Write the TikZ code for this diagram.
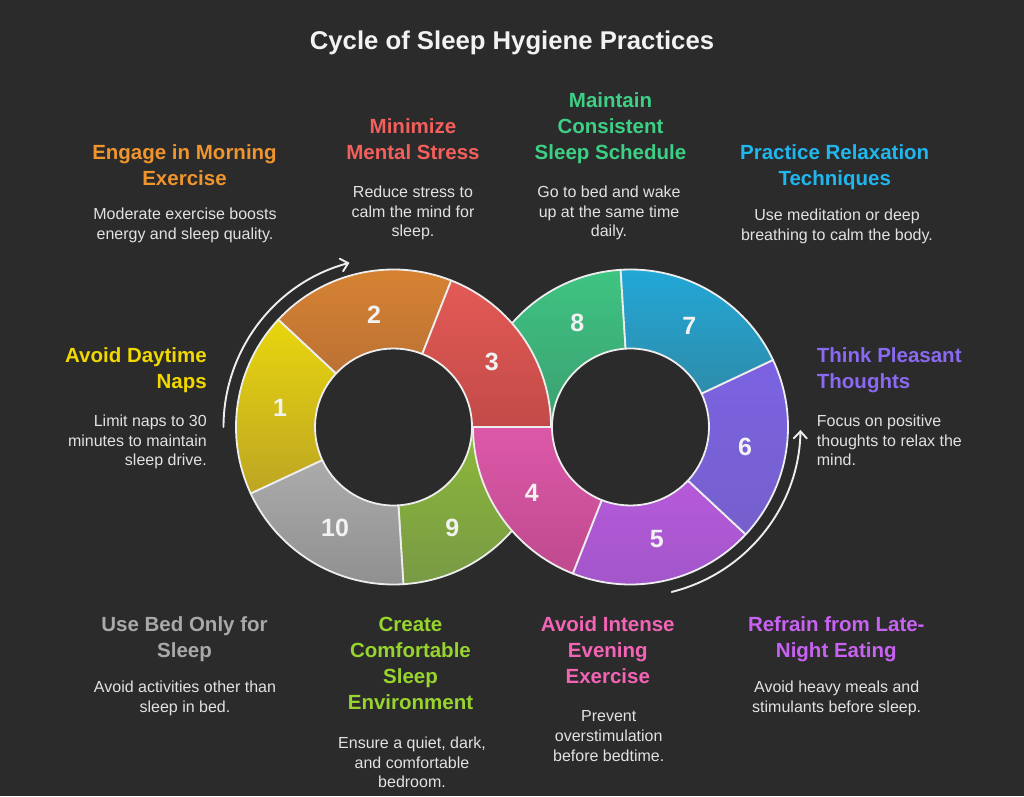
\documentclass[tikz,border=0pt]{standalone}
\usepackage{fontspec}
\setmainfont{Liberation Sans}
\usetikzlibrary{arrows.meta}
\definecolor{bg}{HTML}{2B2B2B}
\definecolor{edge}{HTML}{EDEDED}
\definecolor{desccol}{HTML}{E2E2E2}
\definecolor{titlecol}{HTML}{F2F2F2}
\definecolor{hOrange}{HTML}{F0952E}
\definecolor{hRed}{HTML}{F35F5C}
\definecolor{hGreen}{HTML}{3DD084}
\definecolor{hBlue}{HTML}{20B6EE}
\definecolor{hYellow}{HTML}{F0D800}
\definecolor{hViolet}{HTML}{8A6AF2}
\definecolor{hGray}{HTML}{A9A9A9}
\definecolor{hLime}{HTML}{98D42E}
\definecolor{hPink}{HTML}{F464B6}
\definecolor{hPurple}{HTML}{C862F2}
% segment gradients
\definecolor{s1t}{HTML}{E8D60E}\definecolor{s1b}{HTML}{BDA523}
\definecolor{s2t}{HTML}{DA8432}\definecolor{s2b}{HTML}{BB7234}
\definecolor{s3t}{HTML}{E35A55}\definecolor{s3b}{HTML}{C24A48}
\definecolor{s4t}{HTML}{DC58A8}\definecolor{s4b}{HTML}{BF4A8E}
\definecolor{s5t}{HTML}{B65ADA}\definecolor{s5b}{HTML}{A055C8}
\definecolor{s6t}{HTML}{7C62E2}\definecolor{s6b}{HTML}{7560CC}
\definecolor{s7t}{HTML}{22A8D8}\definecolor{s7b}{HTML}{2E8CAA}
\definecolor{s8t}{HTML}{3EC482}\definecolor{s8b}{HTML}{3C9E70}
\definecolor{s9t}{HTML}{8DB83A}\definecolor{s9b}{HTML}{789A45}
\definecolor{s10t}{HTML}{ABABAB}\definecolor{s10b}{HTML}{8F8F8F}
\newcommand\ringseg[5]{%
  \path[segbox, top color=#4, bottom color=#5]
    ([shift={(#2:157.5)}]#1) arc[start angle=#2, end angle=#3, radius=157.5]
    -- ([shift={(#3:78.5)}]#1) arc[start angle=#3, end angle=#2, radius=78.5] -- cycle;}
\begin{document}
\begin{tikzpicture}[x=1pt, y=1pt,
  segbox/.style={draw=edge, line width=1.8pt, line join=round},
  numlabel/.style={font=\fontsize{25}{25}\selectfont\bfseries, text=titlecol, inner sep=0},
  headtext/.style={font=\fontsize{20.5}{26}\selectfont\bfseries, align=center, inner sep=0, anchor=north},
  desctext/.style={font=\fontsize{16}{19.6}\selectfont, text=desccol, align=center, inner sep=0, anchor=north},
  cycarrow/.style={draw=edge, line width=1.9pt, line cap=round, -{Straight Barb[length=7pt, width=13pt, line cap=round]}}
]
\useasboundingbox (0,0) rectangle (1024,796);
\fill[bg] (0,0) rectangle (1024,796);

\coordinate (L) at (393.5,369);
\coordinate (R) at (630.5,369);

% lower layer
\ringseg{L}{-86.4}{0}{s9t}{s9b}
\ringseg{R}{93.6}{180}{s8t}{s8b}
% regular segments
\ringseg{L}{137}{205}{s1t}{s1b}
\ringseg{L}{68.5}{137}{s2t}{s2b}
\ringseg{L}{205}{273.6}{s10t}{s10b}
\ringseg{R}{248.5}{317}{s5t}{s5b}
\ringseg{R}{317}{385.2}{s6t}{s6b}
\ringseg{R}{25.2}{93.6}{s7t}{s7b}
% upper layer
\ringseg{L}{0}{68.5}{s3t}{s3b}
\ringseg{R}{180}{248.5}{s4t}{s4b}

% numbers
\node[numlabel] (n1) at (280,387.7) {1};
\node[numlabel] (n2) at (374,481) {2};
\node[numlabel] (n3) at (491.7,434.3) {3};
\node[numlabel] (n4) at (531.7,302.7) {4};
\node[numlabel] (n5) at (656.7,257) {5};
\node[numlabel] (n6) at (745,348.7) {6};
\node[numlabel] (n7) at (689.3,470) {7};
\node[numlabel] (n8) at (577.3,472.7) {8};
\node[numlabel] (n9) at (452.3,267.7) {9};
\node[numlabel] (n10) at (335,267.7) {10};

% cycle arrows
\draw[cycarrow] ([shift={(180:170)}]L) arc[start angle=180, end angle=105, radius=170];
\draw[cycarrow] ([shift={(-76:170)}]R) arc[start angle=-76, end angle=-1, radius=170];

% title
\node[font=\fontsize{25.7}{30}\selectfont\bfseries, text=titlecol, inner sep=0, anchor=base] (title) at (512,746) {Cycle of Sleep Hygiene Practices};

% headings and descriptions
\node[headtext, text=hOrange] (h2) at (184.5,651.5) {Engage in Morning\\Exercise};
\node[desctext] (d2) at (185,588) {Moderate exercise boosts\\energy and sleep quality.};

\node[headtext, text=hRed] (h3) at (413,677.5) {Minimize\\Mental Stress};
\node[desctext] (d3) at (413,610) {Reduce stress to\\calm the mind for\\sleep.};

\node[headtext, text=hGreen] (h8) at (610.5,703.5) {Maintain\\Consistent\\Sleep Schedule};
\node[desctext] (d8) at (609,610) {Go to bed and wake\\up at the same time\\daily.};

\node[headtext, text=hBlue] (h7) at (834.7,651.5) {Practice Relaxation\\Techniques};
\node[desctext] (d7) at (837,587) {Use meditation or deep\\breathing to calm the body.};

\node[headtext, text=hYellow, align=right, anchor=north east] (h1) at (207,448.5) {Avoid Daytime\\Naps};
\node[desctext, align=right, anchor=north east] (d1) at (207,381) {Limit naps to 30\\minutes to maintain\\sleep drive.};

\node[headtext, text=hViolet, align=left, anchor=north west] (h6) at (816.7,448.5) {Think Pleasant\\Thoughts};
\node[desctext, align=left, anchor=north west] (d6) at (816.7,381) {Focus on positive\\thoughts to relax the\\mind.};

\node[headtext, text=hGray] (h10) at (184.5,179.5) {Use Bed Only for\\Sleep};
\node[desctext] (d10) at (185,115) {Avoid activities other than\\sleep in bed.};

\node[headtext, text=hLime] (h9) at (410.5,179.5) {Create\\Comfortable\\Sleep\\Environment};
\node[desctext] (d9) at (412,59.3) {Ensure a quiet, dark,\\and comfortable\\bedroom.};

\node[headtext, text=hPink] (h4) at (607.8,179.5) {Avoid Intense\\Evening\\Exercise};
\node[desctext] (d4) at (608.7,85.3) {Prevent\\overstimulation\\before bedtime.};

\node[headtext, text=hPurple] (h5) at (836.3,179.5) {Refrain from Late-\\Night Eating};
\node[desctext] (d5) at (836.7,115.3) {Avoid heavy meals and\\stimulants before sleep.};
\end{tikzpicture}
\end{document}
